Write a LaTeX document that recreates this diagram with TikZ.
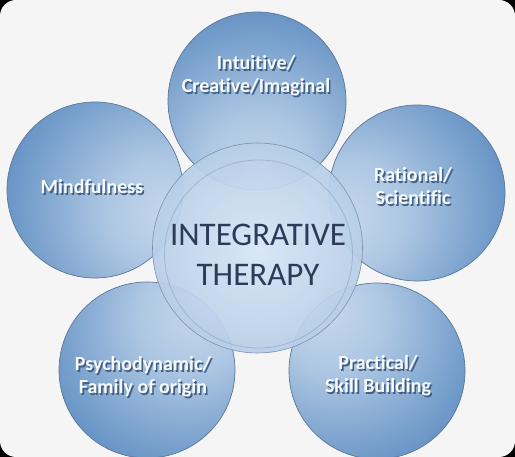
\documentclass[tikz,border=0pt]{standalone}
\usepackage{fontspec}
\setmainfont{Carlito}[Ligatures = {NoCommon}]
\definecolor{paperColor}{RGB}{245,245,245}
\definecolor{petalDark}{RGB}{62,118,180}
\definecolor{petalLight}{RGB}{200,218,238}
\definecolor{petalEdge}{RGB}{90,118,152}
\definecolor{petalShadow}{RGB}{66,96,132}
\definecolor{hubDark}{RGB}{118,160,207}
\definecolor{hubLight}{RGB}{216,230,245}
\definecolor{hubTextColor}{RGB}{44,60,88}
\pgfdeclareradialshading{petalShade}{\pgfpoint{0bp}{-24bp}}{color(0bp)=(petalLight); color(16bp)=(petalLight!80!petalDark); color(54bp)=(petalDark); color(100bp)=(petalDark)}
\pgfdeclareradialshading{hubShade}{\pgfpoint{0bp}{0bp}}{color(0bp)=(hubLight); color(26bp)=(hubLight!65!hubDark); color(50bp)=(hubDark); color(100bp)=(hubDark)}
\tikzstyle{canvas} = [x = 1pt, y = -1pt]
\tikzstyle{petalStyle} = [circle, inner sep = 0, shading = petalShade, draw = petalEdge, line width = .7pt]
\tikzstyle{hubStyle} = [circle, inner sep = 0, shading = hubShade, fill opacity = .92, draw = petalEdge!80, line width = .6pt]
\tikzstyle{hubRing} = [circle, inner sep = 0, draw = petalEdge, line width = .8pt, draw opacity = .3]
\tikzstyle{petalText} = [align = center, text = white!96!petalDark, font = \fontsize{20}{23}\selectfont\bfseries]
\tikzstyle{hubText} = [align = center, text = hubTextColor, font = \fontsize{33}{40}\selectfont]
\newcommand{\dropText}[1]{\makebox[0pt][l]{\hspace{1.6pt}\raisebox{-2pt}{\textcolor{petalShadow}{#1}}}#1}
\newcommand{\petal}[5]{\node [petalStyle, minimum size = #4 * 2pt, shading angle = #5] (#1) at (#2, #3) {};}

\begin{document}
\begin{tikzpicture}[canvas]
  \useasboundingbox (0, 0) rectangle (515, 457);
  \fill [black] (0, 0) rectangle (515, 457);
  \fill [paperColor, rounded corners = 16pt] (0, 0) rectangle (515, 457);

  \petal{intuitive}{257}{101}{89}{0}
  \petal{mindful}{95}{190}{88}{72}
  \petal{rational}{417}{193}{88}{-72}
  \petal{psycho}{147}{370}{88}{140}
  \petal{practical}{377}{371}{88}{-140}

  \node [hubStyle, minimum size = 210pt] (hub) at (257.5, 248) {};
  \node [hubRing, minimum size = 188pt] (hubInner) at (258.5, 254) {};

  \node [petalText] (intuitiveText) at (256, 77) {\dropText{Intuitive/}\\\dropText{Creative/Imaginal}};
  \node [petalText] (mindfulText) at (92, 188) {\dropText{Mindfulness}};
  \node [petalText] (rationalText) at (413, 187) {\dropText{Rational/}\\\dropText{Scientific}};
  \node [petalText] (psychoText) at (143, 378) {\dropText{Psychodynamic/}\\\dropText{Family of origin}};
  \node [petalText] (practicalText) at (378, 377) {\dropText{Practical/}\\\dropText{Skill Building}};

  \node [hubText] (hubLabel) at (258, 255) {INTEGRATIVE\\THERAPY};
\end{tikzpicture}
\end{document}
